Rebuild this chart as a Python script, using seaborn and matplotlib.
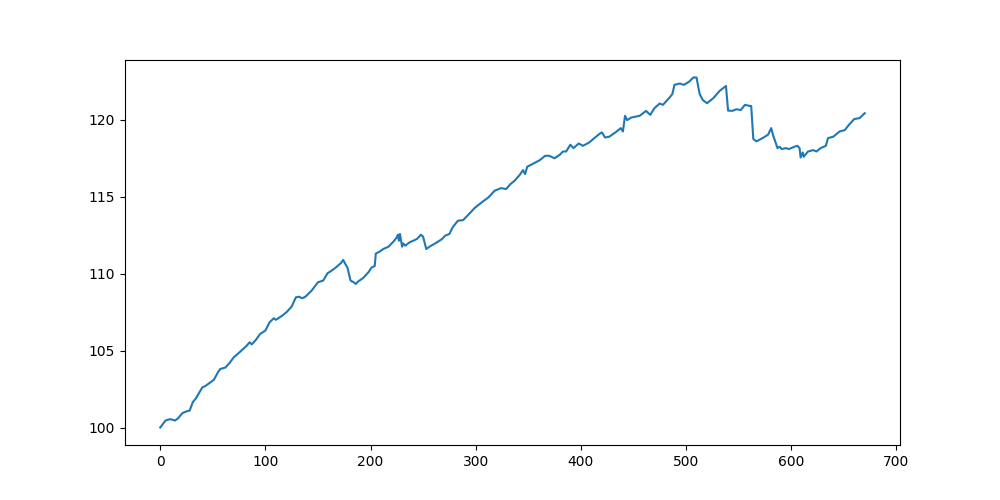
import matplotlib
matplotlib.use("Agg")
import matplotlib.pyplot as plt
import seaborn as sns
import pandas as pd

# values (step index, value)
steps = [0, 5, 9, 12, 14, 17, 21, 25, 28, 31, 34, 36, 40, 43, 47, 51, 55, 57, 62, 66,
         70, 74, 78, 82, 85, 87, 91, 95, 100, 104, 108, 110, 116, 120, 125, 129,
         132, 135, 138, 144, 150, 155, 159, 162, 167, 172, 174, 176, 178, 181, 184,
         186, 188, 193, 198, 201, 204, 205, 209, 212, 217, 222, 225, 226, 227, 228,
         230, 231, 233, 237, 244, 248, 250, 253, 256, 263, 268, 271, 275, 278, 283,
         288, 294, 299, 307, 312, 318, 324, 329, 333, 337, 342, 345, 347, 349, 355,
         361, 366, 370, 375, 380, 383, 386, 390, 393, 398, 402, 408, 413, 418, 420,
         423, 427, 434, 438, 440, 442, 444, 448, 456, 462, 466, 470, 475, 478, 483,
         487, 489, 494, 498, 503, 507, 510, 513, 516, 520, 526, 532, 537, 538, 540,
         544, 548, 552, 556, 560, 562, 564, 567, 573, 578, 581, 583, 587, 589, 591,
         595, 598, 603, 606, 608, 609, 611, 612, 616, 621, 624, 628, 633, 635, 640,
         646, 651, 655, 660, 665, 670]
values = [100.0, 100.45, 100.54, 100.5, 100.45, 100.6, 100.93, 101.05, 101.1, 101.65,
          101.9, 102.14, 102.6, 102.7, 102.9, 103.1, 103.6, 103.8, 103.9, 104.2,
          104.57, 104.8, 105.05, 105.3, 105.54, 105.4, 105.7, 106.08, 106.3, 106.84,
          107.1, 107.0, 107.27, 107.49, 107.86, 108.46, 108.5, 108.4, 108.5, 108.9,
          109.44, 109.55, 110.02, 110.15, 110.4, 110.7, 110.89, 110.63, 110.4,
          109.55, 109.44, 109.33, 109.48, 109.72, 110.09, 110.4, 110.5, 111.3,
          111.45, 111.6, 111.75, 112.1, 112.36, 112.53, 112.14, 112.58, 111.75,
          111.97, 111.82, 112.03, 112.25, 112.53, 112.4, 111.6, 111.75, 112.03,
          112.25, 112.47, 112.58, 113.0, 113.44, 113.48, 113.9, 114.27, 114.7,
          114.95, 115.39, 115.56, 115.5, 115.82, 116.04, 116.43, 116.73, 116.47,
          116.95, 117.16, 117.38, 117.66, 117.66, 117.5, 117.73, 117.94, 117.94,
          118.38, 118.16, 118.46, 118.31, 118.53, 118.82, 119.1, 119.18, 118.85,
          118.9, 119.24, 119.46, 119.24, 120.26, 119.98, 120.15, 120.26, 120.58,
          120.32, 120.76, 121.06, 120.97, 121.34, 121.67, 122.27, 122.36, 122.27,
          122.48, 122.75, 122.75, 121.67, 121.28, 121.08, 121.41, 121.88, 122.14,
          122.2, 120.6, 120.58, 120.69, 120.63, 120.97, 120.91, 120.9, 118.75,
          118.6, 118.82, 119.03, 119.46, 118.96, 118.16, 118.25, 118.1, 118.16,
          118.1, 118.25, 118.31, 118.16, 117.55, 117.88, 117.6, 117.94, 118.03,
          117.94, 118.16, 118.31, 118.81, 118.9, 119.24, 119.33, 119.68, 120.05,
          120.11, 120.43]

df = pd.DataFrame({"step": steps, "value": values})

fig, ax = plt.subplots(figsize=(10, 5), dpi=100)
sns.lineplot(data=df, x="step", y="value", ax=ax, color="#1f77b4", linewidth=1.5)
ax.set_xlabel("")
ax.set_ylabel("")
ax.set_xticks([0, 100, 200, 300, 400, 500, 600, 700])
ax.set_yticks([100, 105, 110, 115, 120])

fig.savefig("out.png")
